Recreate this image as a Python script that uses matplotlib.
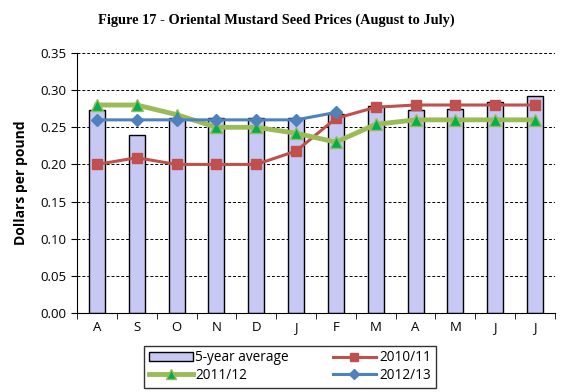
import matplotlib
matplotlib.use("Agg")
import matplotlib.pyplot as plt
import numpy as np

months = ["A", "S", "O", "N", "D", "J", "F", "M", "A", "M", "J", "J"]
avg5 = [0.273, 0.239, 0.262, 0.263, 0.263, 0.263, 0.268, 0.279, 0.273, 0.274, 0.284, 0.292]
y2010 = [0.200, 0.209, 0.200, 0.200, 0.200, 0.218, 0.262, 0.277, 0.280, 0.280, 0.280, 0.280]
y2011 = [0.280, 0.280, 0.267, 0.250, 0.250, 0.242, 0.230, 0.254, 0.260, 0.260, 0.260, 0.260]
y2012 = [0.260, 0.260, 0.260, 0.260, 0.260, 0.260, 0.270]

plt.rcParams['font.family'] = ['Open Sans', 'DejaVu Sans']

fig = plt.figure(figsize=(5.76, 3.92), dpi=100)
ax = fig.add_axes([0.1337, 0.2015, 0.8298, 0.6633])

x = np.arange(len(months))
bars = ax.bar(x, avg5, width=0.4, color="#C8C8F5", edgecolor="black", linewidth=1.0, zorder=2,
              label="5-year average")
l1, = ax.plot(x, y2010, color="#C0504D", lw=2.2, marker="s", markersize=7, zorder=3, label="2010/11")
l2, = ax.plot(x, y2011, color="#9BBB59", lw=3.5, marker="^", markersize=8.5,
              markerfacecolor="#00B050", markeredgecolor="#9BBB59", zorder=4, label="2011/12")
l3, = ax.plot(x[:len(y2012)], y2012, color="#4F81BD", lw=2.2, marker="D", markersize=6, zorder=5,
              label="2012/13")

ax.set_xlim(-0.5, len(months) - 0.5)
ax.set_ylim(0, 0.35)
ax.set_yticks(np.arange(0, 0.351, 0.05))
ax.set_yticklabels([f"{v:.2f}" for v in np.arange(0, 0.351, 0.05)], fontsize=9.5)
ax.set_xticks(x)
ax.set_xticklabels(months, fontsize=9.5)
ax.set_xticks(np.arange(-0.5, len(months), 1), minor=True)
ax.tick_params(axis="x", which="major", length=0, pad=6)
ax.tick_params(axis="x", which="minor", length=4, direction="out", color="black")
ax.tick_params(axis="y", length=4, direction="out")
ax.yaxis.grid(True, linestyle=(0, (3, 2)), color="black", linewidth=0.7, zorder=0)
ax.set_axisbelow(True)
for s in ["top", "right"]:
    ax.spines[s].set_visible(False)
ax.spines["left"].set_color("black")
ax.spines["bottom"].set_color("black")

ax.set_ylabel("Dollars per pound", fontsize=10, fontweight="bold", labelpad=9)
fig.text(0.479, 0.948, "Figure 17 - Oriental Mustard Seed Prices (August to July)",
         ha="center", va="center", fontsize=10.4, fontweight="bold", family="Liberation Serif")

leg = fig.legend(handles=[bars, l2, l1, l3], labels=["5-year average", "2011/12", "2010/11", "2012/13"],
                 ncol=2, loc="center", bbox_to_anchor=(0.5035, 0.0645), frameon=True, fancybox=False,
                 edgecolor="black", fontsize=9.8, handlelength=3.2, columnspacing=3.2,
                 handletextpad=0.2, borderpad=0.35, labelspacing=0.2, markerscale=0.85)
leg.get_frame().set_linewidth(1.0)

fig.savefig("out.png", dpi=100)
